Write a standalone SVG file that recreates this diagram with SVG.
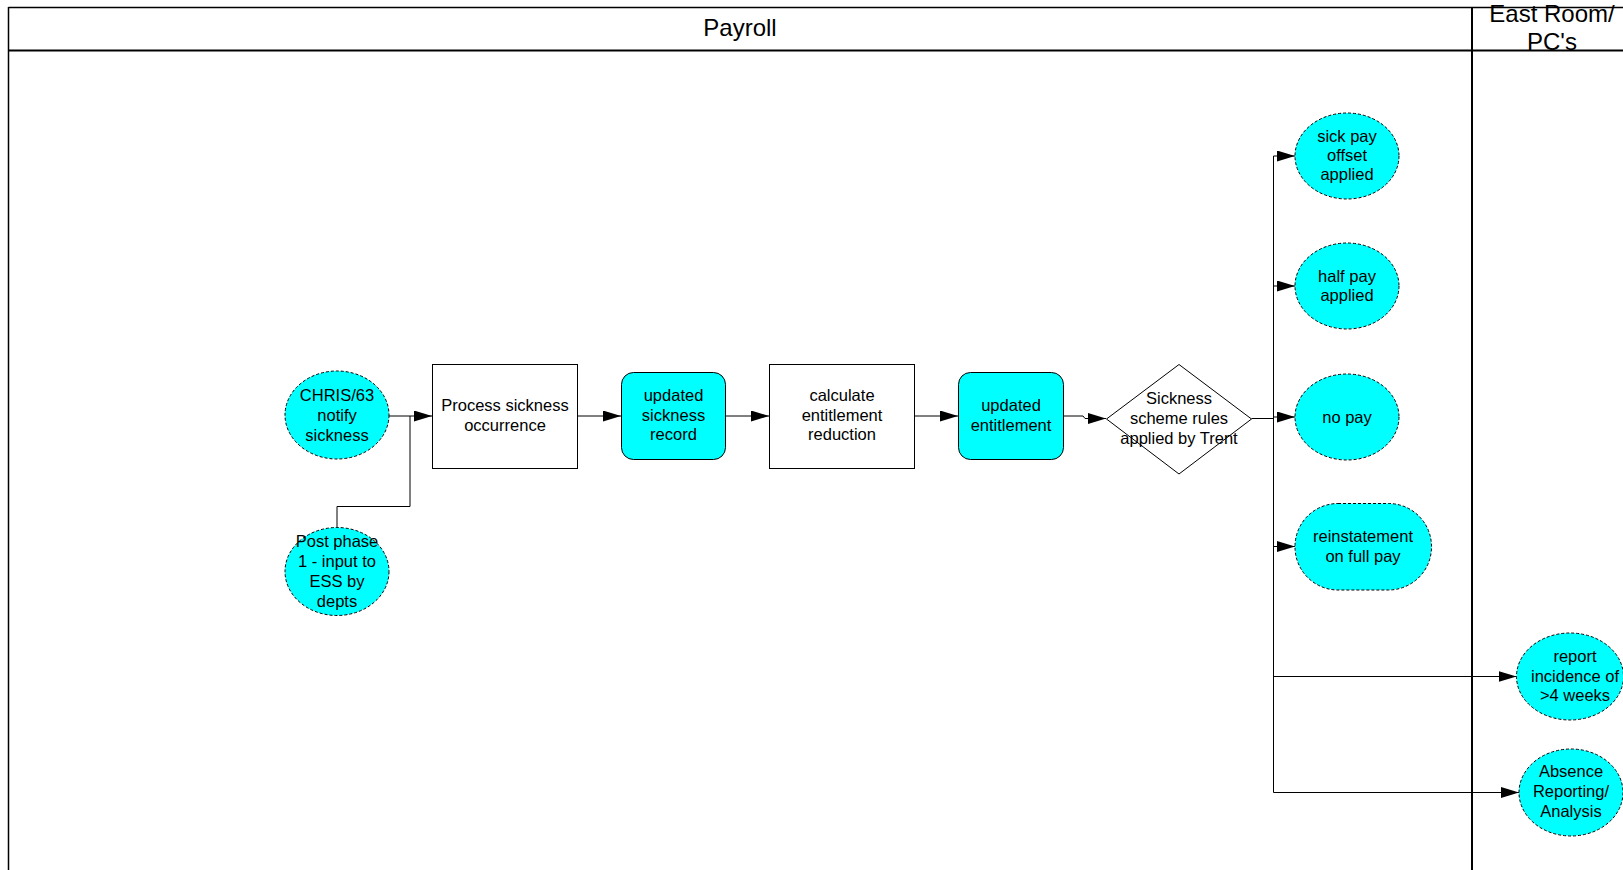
<svg xmlns="http://www.w3.org/2000/svg" width="1623" height="870" viewBox="0 0 1623 870">
<style>
text{font-family:"Liberation Sans",Arial,sans-serif;font-size:16.5px;fill:#000;text-anchor:middle}
.lane{font-size:24px}
.term{fill:#00FFFF;stroke:#000;stroke-width:1;stroke-dasharray:3,2}
.proc{fill:#fff;stroke:#000;stroke-width:1}
.store{fill:#00FFFF;stroke:#000;stroke-width:1}
.frame{fill:none;stroke:#000}
.con{fill:none;stroke:#000;stroke-width:1}
</style>
<defs>
<marker id="arr" markerUnits="userSpaceOnUse" markerWidth="19" markerHeight="12" refX="18" refY="5.5" orient="auto">
<path d="M0,0 L18,5.5 L0,11 z" fill="#000"/>
</marker>
</defs>
<rect width="1623" height="870" fill="#fff"/>
<g id="pool">
<line class="frame" x1="8.5" y1="7.5" x2="1623" y2="7.5" stroke-width="1.5"/>
<line class="frame" x1="8.5" y1="7" x2="8.5" y2="870" stroke-width="1.5"/>
<line class="frame" x1="8" y1="50.5" x2="1623" y2="50.5" stroke-width="2"/>
<line class="frame" x1="1472" y1="7" x2="1472" y2="870" stroke-width="2"/>
<text class="lane" x="740" y="36">Payroll</text>
<text class="lane" x="1552" y="22">East Room/</text>
<text class="lane" x="1552" y="50">PC's</text>
</g>
<g id="connectors">
<path class="con" d="M389,416 H432" marker-end="url(#arr)"/>
<path class="con" d="M337,528 V506.5 H410 V416"/>
<path class="con" d="M577.5,416 H621" marker-end="url(#arr)"/>
<path class="con" d="M726,416 H769" marker-end="url(#arr)"/>
<path class="con" d="M915,416 H958" marker-end="url(#arr)"/>
<path class="con" d="M1063,416 H1083 L1085,418.5 H1106" marker-end="url(#arr)"/>
<path class="con" d="M1251.5,418.5 H1273.5" stroke-width="2"/>
<path class="con" d="M1273.5,156 V792.5" stroke-width="1.3"/>
<path class="con" d="M1273.5,156 H1295" marker-end="url(#arr)"/>
<path class="con" d="M1273.5,286 H1295" marker-end="url(#arr)"/>
<path class="con" d="M1273.5,417 H1295" marker-end="url(#arr)"/>
<path class="con" d="M1273.5,546.5 H1295" marker-end="url(#arr)"/>
<path class="con" d="M1273.5,676.5 H1516.5" marker-end="url(#arr)"/>
<path class="con" d="M1273.5,792.5 H1519" marker-end="url(#arr)"/>
</g>
<g id="chris">
<ellipse class="term" cx="337" cy="415" rx="52" ry="44"/>
<text x="337" y="400.5">CHRIS/63</text>
<text x="337" y="420.5">notify</text>
<text x="337" y="440.5">sickness</text>
</g>
<g id="postphase">
<ellipse class="term" cx="337" cy="571.5" rx="52" ry="44"/>
<text x="337" y="546.5">Post phase</text>
<text x="337" y="566.5">1 - input to</text>
<text x="337" y="586.5">ESS by</text>
<text x="337" y="606.5">depts</text>
</g>
<g id="process">
<rect class="proc" x="432.5" y="364.5" width="145" height="104"/>
<text x="505" y="410.5">Process sickness</text>
<text x="505" y="430.5">occurrence</text>
</g>
<g id="updrecord">
<rect class="store" x="621.5" y="372.5" width="104" height="87" rx="12"/>
<text x="673.5" y="400.5">updated</text>
<text x="673.5" y="420.5">sickness</text>
<text x="673.5" y="440">record</text>
</g>
<g id="calc">
<rect class="proc" x="769.5" y="364.5" width="145" height="104"/>
<text x="842" y="400.5">calculate</text>
<text x="842" y="420.5">entitlement</text>
<text x="842" y="440">reduction</text>
</g>
<g id="updent">
<rect class="store" x="958.5" y="372.5" width="105" height="87" rx="12"/>
<text x="1011" y="410.5">updated</text>
<text x="1011" y="430.5">entitlement</text>
</g>
<g id="rules">
<polygon class="proc" points="1179,364.5 1251.5,419 1179,474 1106.5,419"/>
<text x="1179" y="404">Sickness</text>
<text x="1179" y="423.5">scheme rules</text>
<text x="1179" y="443.5">applied by Trent</text>
</g>
<g id="sickoffset">
<ellipse class="term" cx="1347" cy="156" rx="52" ry="43"/>
<text x="1347" y="141.5">sick pay</text>
<text x="1347" y="160.5">offset</text>
<text x="1347" y="179.5">applied</text>
</g>
<g id="halfpay">
<ellipse class="term" cx="1347" cy="286" rx="52" ry="43"/>
<text x="1347" y="281.5">half pay</text>
<text x="1347" y="300.5">applied</text>
</g>
<g id="nopay">
<ellipse class="term" cx="1347" cy="417" rx="52" ry="43"/>
<text x="1347" y="422.5">no pay</text>
</g>
<g id="reinstate">
<rect class="term" x="1295" y="503.5" width="136.5" height="86.5" rx="43" ry="43"/>
<text x="1363" y="542">reinstatement</text>
<text x="1363" y="561.5">on full pay</text>
</g>
<g id="report">
<ellipse class="term" cx="1570" cy="676.5" rx="53.5" ry="43.5"/>
<text x="1575" y="662">report</text>
<text x="1575" y="681.5">incidence of</text>
<text x="1575" y="700.5">&gt;4 weeks</text>
</g>
<g id="absence">
<ellipse class="term" cx="1571" cy="792.5" rx="52" ry="43.5"/>
<text x="1571" y="777">Absence</text>
<text x="1571" y="797">Reporting/</text>
<text x="1571" y="817">Analysis</text>
</g>
</svg>
